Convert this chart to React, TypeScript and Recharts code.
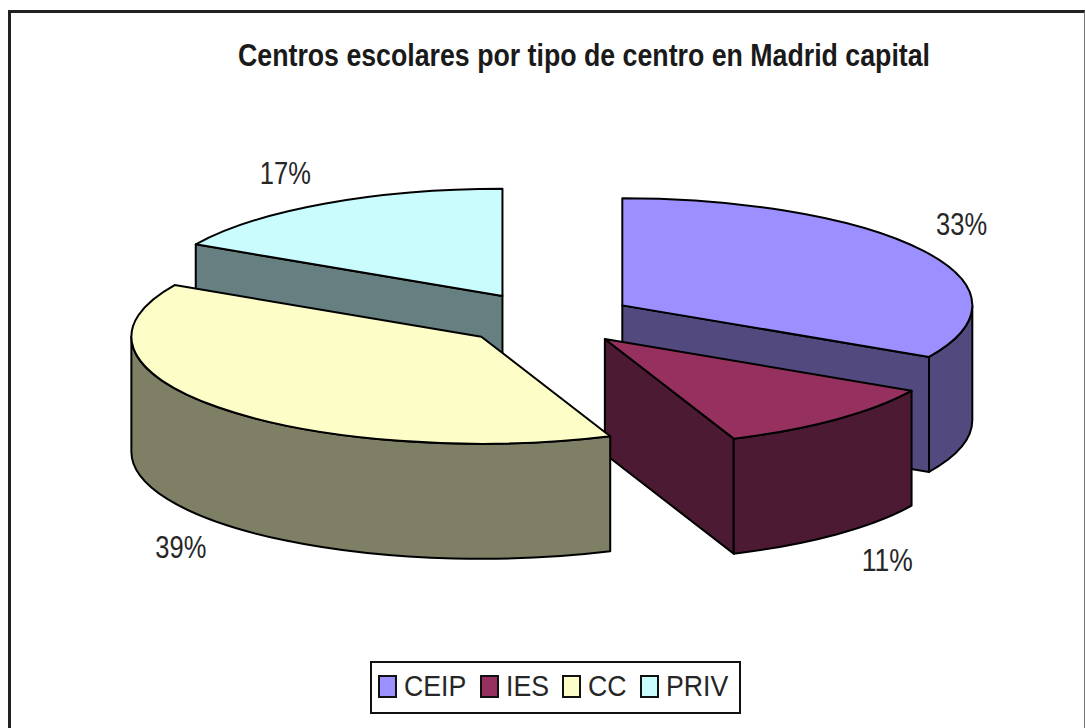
import React from 'react';
import { PieChart, Pie, Legend } from 'recharts';

const TITLE = 'Centros escolares por tipo de centro en Madrid capital';
const CATEGORIES = ['CEIP', 'IES', 'CC', 'PRIV'];
const VALUES = [33, 11, 39, 17];
const TOP_COLORS = ['#9C8FFF', '#96305F', '#FDFDC8', '#CAFCFD'];
const WALL_COLORS = ['#524A7F', '#4C1A33', '#7E7F65', '#667F80'];

// Layout of the projected pie
const WIDTH = 1085;
const HEIGHT = 728;
const CX = 547;
const CY = 319;
const RX = 350;
const SQUASH = 0.306;
const DEPTH = 115;
const EXPLODE = 0.25;
const FONT = '"Liberation Sans", Arial, sans-serif';
const LABEL_OFFSETS: Record<string, [number, number]> = {
  CEIP: [38, -26],
  IES: [51, 26],
  CC: [-38, 25],
  PRIV: [-39, -30],
};
const LEGEND_LEFT = [6, 108, 190, 268];
const LEGEND_SCALE = 0.89;

// Painted back to front, so the last category comes first and the pie is rotated to compensate.
const paintOrder = [CATEGORIES.length - 1, 0, 1, 2];
const table = paintOrder.map((i) => ({
  name: CATEGORIES[i],
  value: VALUES[i],
  fill: TOP_COLORS[i],
  wall: WALL_COLORS[i],
}));
const total = VALUES.reduce((a, b) => a + b, 0);
const START = 90 + (360 * VALUES[VALUES.length - 1]) / total;

const rad = (d: number) => (d * Math.PI) / 180;
const onEllipse = (a: number, rx: number, ry: number) => [rx * Math.sin(rad(a)), -ry * Math.cos(rad(a))];
const fmt = (p: number[]) => `${p[0].toFixed(2)} ${p[1].toFixed(2)}`;

function clockwise(startAngle: number, endAngle: number) {
  const a1 = ((90 - startAngle) % 360 + 360) % 360;
  const span = Math.abs(endAngle - startAngle);
  return { a1, a2: a1 + span };
}

function apexOf(cx: number, cy: number, mid: number, rx: number, ry: number) {
  const m = onEllipse(mid, rx, ry);
  return [cx + EXPLODE * m[0], cy + EXPLODE * m[1]];
}

function Slice3D(props: any) {
  const { cx, cy, outerRadius, startAngle, endAngle, fill } = props;
  const wall = props.wall ?? props.payload?.wall;
  const rx = outerRadius;
  const ry = outerRadius * SQUASH;
  const { a1, a2 } = clockwise(startAngle, endAngle);
  const apex = apexOf(cx, cy, (a1 + a2) / 2, rx, ry);
  const at = (a: number) => {
    const p = onEllipse(a, rx, ry);
    return [apex[0] + p[0], apex[1] + p[1]];
  };
  const down = (p: number[]) => [p[0], p[1] + DEPTH];
  const style = { stroke: '#000', strokeWidth: 2, strokeLinejoin: 'round' as const };
  const faces: React.ReactNode[] = [];

  // flat cut faces, only those turned toward the viewer
  if (-Math.cos(rad(a1 - 90)) > 0.001) {
    const p = at(a1);
    faces.push(<path key="c1" d={`M${fmt(apex)}L${fmt(p)}L${fmt(down(p))}L${fmt(down(apex))}Z`} fill={wall} {...style} />);
  }
  if (-Math.cos(rad(a2 + 90)) > 0.001) {
    const p = at(a2);
    faces.push(<path key="c2" d={`M${fmt(apex)}L${fmt(p)}L${fmt(down(p))}L${fmt(down(apex))}Z`} fill={wall} {...style} />);
  }
  // curved outer wall, front half of the ellipse
  const s = Math.max(a1, 90);
  const e = Math.min(a2, 270);
  if (e > s) {
    const ps = at(s);
    const pe = at(e);
    faces.push(
      <path
        key="arc"
        d={`M${fmt(ps)}A${rx} ${ry} 0 0 1 ${fmt(pe)}L${fmt(down(pe))}A${rx} ${ry} 0 0 0 ${fmt(down(ps))}Z`}
        fill={wall}
        {...style}
      />,
    );
  }
  // top face
  const large = a2 - a1 > 180 ? 1 : 0;
  faces.push(
    <path
      key="top"
      d={`M${fmt(apex)}L${fmt(at(a1))}A${rx} ${ry} 0 ${large} 1 ${fmt(at(a2))}Z`}
      fill={fill}
      {...style}
    />,
  );
  return <g>{faces}</g>;
}

function SliceLabel(props: any) {
  const { cx, cy, outerRadius, midAngle, percent } = props;
  const name = props.name ?? props.payload?.name;
  const rx = outerRadius;
  const ry = outerRadius * SQUASH;
  const mid = ((90 - midAngle) % 360 + 360) % 360;
  const apex = apexOf(cx, cy, mid, rx, ry);
  const m = onEllipse(mid, rx, ry);
  const front = mid > 90 && mid < 270;
  const off = LABEL_OFFSETS[name] ?? [0, 0];
  return (
    <text
      x={apex[0] + m[0] + off[0]}
      y={apex[1] + m[1] + (front ? DEPTH : 0) + off[1]}
      textAnchor="middle"
      dominantBaseline="central"
      fontFamily={FONT}
      fontSize={31}
      fill="#262626"
      textLength={51}
      lengthAdjust="spacingAndGlyphs"
    >
      {`${Math.round(percent * 100)}%`}
    </text>
  );
}

function LegendBox(props: any) {
  const items = [...(props.payload ?? [])].sort(
    (a: any, b: any) => CATEGORIES.indexOf(a.value) - CATEGORIES.indexOf(b.value),
  );
  return (
    <div
      style={{
        position: 'relative',
        boxSizing: 'border-box',
        width: 371,
        height: 53,
        border: '2px solid #111',
        background: '#fff',
        fontFamily: FONT,
        fontSize: 30,
        color: '#262626',
      }}
    >
      {items.map((it: any, i: number) => (
        <React.Fragment key={it.value}>
          <span
            style={{
              position: 'absolute',
              left: LEGEND_LEFT[i],
              top: 12,
              boxSizing: 'border-box',
              width: 19,
              height: 23,
              background: it.color,
              border: '2px solid #111',
            }}
          />
          <span
            style={{
              position: 'absolute',
              left: LEGEND_LEFT[i] + 26,
              top: 6,
              lineHeight: '34px',
              whiteSpace: 'nowrap',
              transform: `scaleX(${LEGEND_SCALE})`,
              transformOrigin: 'left center',
            }}
          >
            {it.value}
          </span>
        </React.Fragment>
      ))}
    </div>
  );
}

export default function App() {
  return (
    <div style={{ position: 'absolute', left: 0, top: 0, width: WIDTH, height: HEIGHT, overflow: 'hidden', background: '#fff' }}>
      <div
        style={{
          position: 'absolute',
          left: 8,
          top: 10,
          width: 1077,
          height: 720,
          boxSizing: 'border-box',
          borderLeft: '3px solid #222',
          borderTop: '3px solid #222',
          borderRight: '1px solid #777',
        }}
      />
      <PieChart
        width={WIDTH}
        height={HEIGHT}
        margin={{ top: 0, right: 0, bottom: 0, left: 0 }}
        style={{ position: 'absolute', left: 0, top: 0 }}
      >
        <text
          x={584}
          y={55}
          textAnchor="middle"
          dominantBaseline="central"
          fontFamily={FONT}
          fontSize={31}
          fontWeight="bold"
          fill="#1a1a1a"
          textLength={692}
          lengthAdjust="spacingAndGlyphs"
        >
          {TITLE}
        </text>
        <Pie
          data={table}
          dataKey="value"
          nameKey="name"
          cx={CX}
          cy={CY}
          innerRadius={0}
          outerRadius={RX}
          startAngle={START}
          endAngle={START - 360}
          paddingAngle={0}
          shape={Slice3D}
          label={SliceLabel}
          labelLine={false}
          isAnimationActive={false}
        />
        <Legend content={LegendBox} wrapperStyle={{ position: 'absolute', left: 370, top: 661, width: 371, height: 53, bottom: 'auto' }} />
      </PieChart>
    </div>
  );
}
